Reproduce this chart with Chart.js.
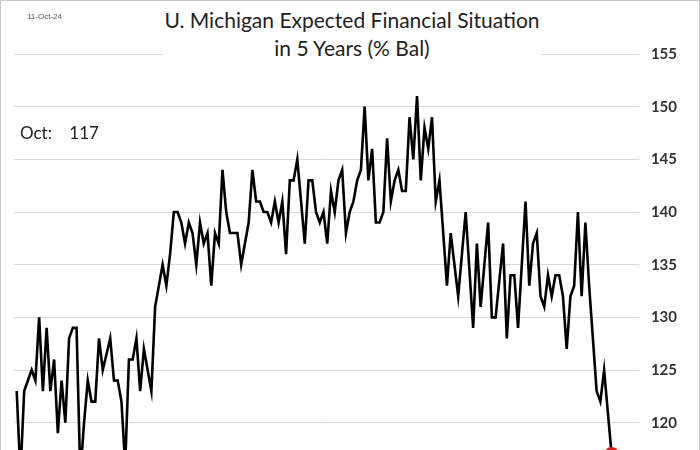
<!DOCTYPE html>
<html>
<head>
<meta charset="utf-8">
<script src="https://cdn.jsdelivr.net/npm/chart.js@4"></script>
<style>
  html, body { margin: 0; padding: 0; background: #fff; }
  #wrap { position: relative; width: 700px; height: 450px; overflow: hidden; border: 1px solid #c8c8c8; border-bottom: none; box-sizing: border-box; }
  #chart { position: absolute; left: 0; top: -1px; }
  .date { position: absolute; left: 26px; top: 11px; font: 8px "Liberation Sans", sans-serif; color: #555; }
  .title { position: absolute; left: 162px; top: 5px; width: 378px; background: #fff; text-align: center;
           font: 21px Lato, "Open Sans", sans-serif; line-height: 28px; color: #222; }
  .latest { position: absolute; left: 19px; top: 121px; font: 17px Lato, "Open Sans", sans-serif; color: #222; white-space: pre; }
</style>
</head>
<body>
<div id="wrap">
  <canvas id="chart" width="700" height="549"></canvas>
  <div class="date">11-Oct-24</div>
  <div class="title">U. Michigan Expected Financial Situation<br>in 5 Years (% Bal)</div>
  <div class="latest">Oct:    117</div>
</div>
<script>
// monthly readings, oldest first (ends Oct-24)
const values = [
  123, 115, 123, 124, 125, 124, 130, 123, 129, 123,
  126, 119, 124, 120, 128, 129, 129, 115, 120, 124,
  122, 122, 128, 125, 126.5, 128, 124, 124, 122, 116,
  126, 126, 128, 123, 127, 125, 123, 131, 133, 135,
  133, 136, 140, 140, 139, 137, 139, 138, 135, 139,
  137, 138, 133, 138, 137, 144, 140, 138, 138, 138,
  135, 137, 139, 144, 141, 141, 140, 140, 139, 141,
  139, 141, 136, 143, 143, 145, 141, 137, 143, 143,
  140, 139, 140, 137, 142, 140, 143, 144, 138, 140,
  141, 143, 144, 150, 143, 146, 139, 139, 140, 147,
  141, 143, 144, 142, 142, 149, 145, 151, 143, 148,
  146, 149, 141, 143, 138, 133, 138, 135, 132, 136,
  140, 134.5, 129, 137, 131, 135, 139, 130, 130, 133.5,
  137, 128, 134, 134, 129, 135, 141, 133, 137, 138,
  132, 131, 134, 132, 134, 134, 132, 127, 132, 133,
  140, 132, 139, 133, 128, 123, 122, 125, 121, 117
];
const yTicks = [110, 115, 120, 125, 130, 135, 140, 145, 150, 155];

const last = values.length - 1;
const ctx = document.getElementById("chart").getContext("2d");
new Chart(ctx, {
  type: "line",
  data: {
    datasets: [
      {
        data: values.map((v, i) => ({ x: i, y: v })),
        borderColor: "#000",
        borderWidth: 2.6,
        tension: 0,
        fill: false,
        pointRadius: (c) => (c.dataIndex === last ? 6 : 0),
        pointBackgroundColor: "#d42020",
        pointBorderColor: "#d42020",
      },
    ],
  },
  options: {
    responsive: false,
    animation: false,
    layout: { padding: { left: 13, top: 54, right: 12, bottom: 14 } },
    plugins: { legend: { display: false }, tooltip: { enabled: false } },
    scales: {
      x: { type: "linear", display: false, min: -0.72, max: 166.3 },
      y: {
        position: "right",
        min: yTicks[0],
        max: yTicks[yTicks.length - 1],
        afterBuildTicks: (s) => { s.ticks = yTicks.map((v) => ({ value: v })); },
        ticks: { padding: 12, color: "#333", font: { family: "Lato", size: 15, weight: "bold" } },
        grid: { color: "#d9d9d9", drawTicks: false },
        border: { display: false },
      },
    },
  },
});
</script>
</body>
</html>
